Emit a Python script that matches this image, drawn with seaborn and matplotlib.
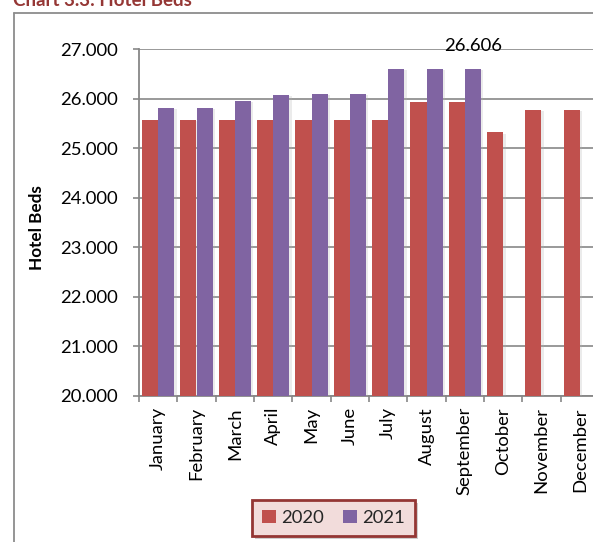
import numpy as np
import pandas as pd
import matplotlib
matplotlib.use("Agg")
import matplotlib.pyplot as plt
from matplotlib.lines import Line2D
from matplotlib.patches import Patch
from matplotlib.ticker import FuncFormatter, FixedLocator
import matplotlib.patheffects as pe
import seaborn as sns

# Monthly hotel beds
months = ["January", "February", "March", "April", "May", "June", "July",
          "August", "September", "October", "November", "December"]
beds_2020 = [25570, 25570, 25570, 25570, 25570, 25570, 25570,
             25925, 25925, 25322, 25770, 25770]
beds_2021 = [25810, 25810, 25953, 26075, 26100, 26100, 26606,
             26606, 26606, np.nan, np.nan, np.nan]
years = ["2020", "2021"]
labelled_value = 26606
labelled_month = "September"

df = pd.DataFrame({
    "Month": months * 2,
    "Year": [years[0]] * 12 + [years[1]] * 12,
    "Beds": beds_2020 + beds_2021,
}).dropna()

sns.set_theme(style="white")
plt.rcParams["font.family"] = ["Lato", "DejaVu Sans"]

RED = "#C0504D"
PURPLE = "#8064A2"
GRID = "#878787"

W, H, DPI = 593, 542, 100
fig = plt.figure(figsize=(W / DPI, H / DPI), dpi=DPI)
fig.patch.set_facecolor("white")

# plot area (right edge runs past the figure edge)
left, right, top, bottom = 139, 599, 49, 396
ax = fig.add_axes([left / W, 1 - bottom / H, (right - left) / W, (bottom - top) / H])

shadow = [pe.SimplePatchShadow(offset=(1.8, -1.0), shadow_rgbFace="#b0b0b0", alpha=0.25),
          pe.Normal()]

sns.barplot(data=df, x="Month", y="Beds", hue="Year", order=months, hue_order=years,
            palette=[RED, PURPLE], saturation=1, width=0.84, gap=0, errorbar=None,
            legend=False, ax=ax, zorder=3)
for p in ax.patches:
    p.set_path_effects(shadow)
    p.set_linewidth(0)

ax.set_ylim(20000, 27000)
ax.set_xlim(-0.5, len(months) - 0.5)
ax.set_yticks(np.arange(20000, 27001, 1000))
ax.yaxis.set_major_formatter(FuncFormatter(lambda v, _: f"{v:,.0f}".replace(",", ".")))
ax.yaxis.grid(True, color=GRID, linewidth=1.2, zorder=0)
ax.set_axisbelow(True)

for s in ["top", "right"]:
    ax.spines[s].set_visible(False)
for s in ["left", "bottom"]:
    ax.spines[s].set_color(GRID)
    ax.spines[s].set_linewidth(1.3)

ax.tick_params(axis="y", which="major", direction="out", length=4.5, width=1.2,
               color=GRID, pad=10.5, labelsize=13.3, labelcolor="black", left=True)
ax.tick_params(axis="x", which="major", length=0, pad=8, labelsize=13.3,
               labelcolor="black", labelrotation=90)
ax.xaxis.set_minor_locator(FixedLocator(np.arange(-0.5, len(months), 1.0)))
ax.tick_params(axis="x", which="minor", direction="out", length=4.5, width=1.2,
               color=GRID, bottom=True)
for lbl in ax.get_xticklabels():
    lbl.set_va("top")
    lbl.set_ha("center")

ax.set_xlabel("")
ax.set_ylabel("Hotel Beds", fontsize=12.3, fontweight="bold", color="black")
ax.yaxis.set_label_coords(-0.204, 0.484)

# value label above the September 2021 bar
xi = months.index(labelled_month)
for p in ax.patches:
    cx = p.get_x() + p.get_width() / 2
    if p.get_height() == labelled_value and abs(cx - (xi + 0.21)) < 0.1:
        ax.annotate(f"{labelled_value:,.0f}".replace(",", "."), xy=(cx, p.get_height()),
                    xytext=(0, 18), textcoords="offset pixels", ha="center",
                    va="baseline", fontsize=13.3, color="black",
                    annotation_clip=False, zorder=5)

# legend
handles = [Patch(facecolor=RED, edgecolor="none"), Patch(facecolor=PURPLE, edgecolor="none")]
leg = fig.legend(handles, years, loc="center", bbox_to_anchor=(333.5 / W, 1 - 518 / H),
                 ncol=2, fontsize=13.3, frameon=True, fancybox=False, shadow=False,
                 handlelength=0.75, handleheight=0.75, handletextpad=0.3,
                 columnspacing=1.0, borderpad=0.55, borderaxespad=0)
frame = leg.get_frame()
frame.set_facecolor("#F2DCDB")
frame.set_edgecolor("#943634")
frame.set_linewidth(2.0)
frame.set_alpha(1)
frame.set_path_effects([pe.SimplePatchShadow(offset=(2, -2), shadow_rgbFace="#888888", alpha=0.4),
                        pe.Normal()])

# outer chart frame
fx, fy = 13.5 / W, 1 - 12.5 / H
fig.add_artist(Line2D([fx, fx], [0, fy], transform=fig.transFigure, color="#8c8c8c", lw=1.3))
fig.add_artist(Line2D([fx, 1], [fy, fy], transform=fig.transFigure, color="#8c8c8c", lw=1.3))

# title, partly above the figure edge
fig.text(13 / W, 1 - 6 / H, "Chart 3.3: Hotel Beds", color="#953735", fontsize=13.5,
         fontweight="bold", ha="left", va="baseline")

fig.savefig("out.png", dpi=DPI, facecolor="white")
